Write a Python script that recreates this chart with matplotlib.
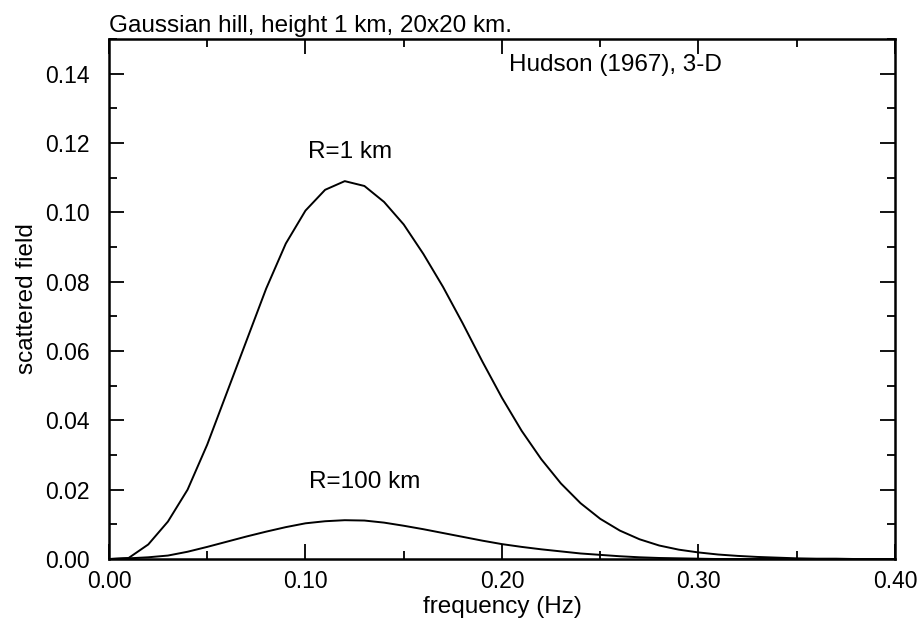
import matplotlib.pyplot as plt
import numpy as np
from matplotlib.ticker import MultipleLocator, FormatStrFormatter

plt.rcParams['font.family'] = ['Liberation Sans', 'DejaVu Sans']

# frequency grid (Hz)
freq = np.round(np.arange(0.0, 0.401, 0.01), 2)

# scattered field amplitude, receiver at R = 1 km
r1km = [0.0, 0.0003, 0.0042, 0.0108, 0.0200, 0.0330, 0.0480, 0.0630, 0.0780,
        0.0910, 0.1005, 0.1065, 0.1090, 0.1076, 0.1030, 0.0965, 0.0880,
        0.0785, 0.0680, 0.0570, 0.0465, 0.0370, 0.0288, 0.0218, 0.0161,
        0.0116, 0.0082, 0.0057, 0.0039, 0.0027, 0.0019, 0.0013, 0.0009,
        0.0006, 0.0004, 0.0002, 0.0001, 0.0001, 0.0, 0.0, 0.0]

# scattered field amplitude, receiver at R = 100 km
r100km = [0.0, 0.0002, 0.0005, 0.0010, 0.0021, 0.0035, 0.0050, 0.0065, 0.0079,
          0.0092, 0.0103, 0.0109, 0.0112, 0.0111, 0.0105, 0.0096, 0.0086,
          0.0075, 0.0064, 0.0053, 0.0043, 0.0035, 0.0028, 0.0022, 0.0016,
          0.0012, 0.0008, 0.0005, 0.0003, 0.0002, 0.0001, 0.0, 0.0, 0.0,
          0.0, 0.0, 0.0, 0.0, 0.0, 0.0, 0.0]

fs = 17.5
tick_fs = 16.5

fig = plt.figure(figsize=(9.18, 6.21), dpi=100)
ax = fig.add_axes([0.1187, 0.0998, 0.8562, 0.8374])

ax.plot(freq, r1km, color='black', lw=1.4)
ax.plot(freq, r100km, color='black', lw=1.4)

ax.set_xlim(0, 0.40)
ax.set_ylim(0, 0.15)

ax.xaxis.set_major_locator(MultipleLocator(0.10))
ax.xaxis.set_minor_locator(MultipleLocator(0.05))
ax.yaxis.set_major_locator(MultipleLocator(0.02))
ax.yaxis.set_minor_locator(MultipleLocator(0.01))
ax.xaxis.set_major_formatter(FormatStrFormatter('%.2f'))
ax.yaxis.set_major_formatter(FormatStrFormatter('%.2f'))

ax.tick_params(which='both', direction='in', top=True, right=True,
               width=1.3, labelsize=tick_fs, colors='black')
ax.tick_params(axis='x', which='major', length=11, pad=8)
ax.tick_params(axis='y', which='major', length=11, pad=14)
ax.tick_params(which='minor', length=6)
for sp in ax.spines.values():
    sp.set_linewidth(1.8)

ax.set_xlabel('frequency (Hz)', fontsize=fs, labelpad=2)
ax.set_ylabel('scattered field', fontsize=fs, labelpad=5)
ax.set_title('Gaussian hill, height 1 km, 20x20 km.', loc='left',
             fontsize=fs, pad=5)

ax.text(0.3117, 0.1424, 'Hudson (1967), 3-D', fontsize=fs,
        ha='right', va='center')
ax.text(0.1228, 0.1173, 'R=1 km', fontsize=fs, ha='center', va='center')
ax.text(0.130, 0.0222, 'R=100 km', fontsize=fs, ha='center', va='center')

fig.savefig('out.png', dpi=100)
